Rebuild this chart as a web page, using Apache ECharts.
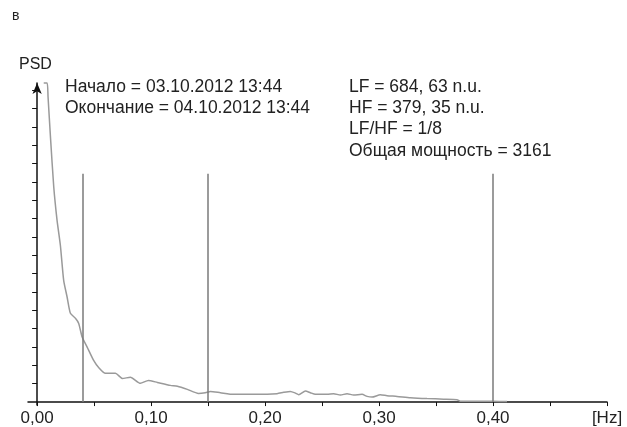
<!DOCTYPE html>
<html>
<head>
<meta charset="utf-8">
<script src="https://cdn.jsdelivr.net/npm/echarts@6/dist/echarts.min.js"></script>
<style>
  html, body { margin: 0; padding: 0; background: #fff; }
  #main { width: 627px; height: 427px; }
</style>
</head>
<body>
<div id="main"></div>
<script>
// частота, Hz
var freq = [0.0058, 0.0088, 0.0096, 0.0117, 0.0146, 0.0175, 0.0204, 0.0233, 0.0263, 0.0292,
  0.0336, 0.0365, 0.0395, 0.0439, 0.0496, 0.0538, 0.0599, 0.0687, 0.0748, 0.0818,
  0.0906, 0.0976, 0.1055, 0.1169, 0.1231, 0.1318, 0.1415, 0.1476, 0.1520, 0.1608,
  0.1725, 0.1930, 0.2105, 0.2163, 0.2222, 0.2266, 0.2295, 0.2354, 0.2397, 0.2441,
  0.2544, 0.2602, 0.2661, 0.2719, 0.2777, 0.2851, 0.2895, 0.2939, 0.3011, 0.3070,
  0.3158, 0.3275, 0.3421, 0.3567, 0.3684, 0.3713, 0.4000, 0.4123];
// PSD (в делениях оси)
var psd = [17.40, 17.40, 16.64, 14.46, 11.73, 9.91, 8.55, 6.64, 5.73, 4.84,
  4.57, 4.29, 3.55, 3.00, 2.27, 1.90, 1.57, 1.57, 1.29, 1.35,
  1.02, 1.18, 1.07, 0.91, 0.86, 0.69, 0.47, 0.51, 0.58, 0.51,
  0.42, 0.42, 0.46, 0.53, 0.58, 0.49, 0.40, 0.60, 0.51, 0.42,
  0.42, 0.46, 0.38, 0.46, 0.38, 0.42, 0.31, 0.27, 0.40, 0.35,
  0.31, 0.24, 0.19, 0.16, 0.13, 0.05, 0.04, 0.03];
// границы диапазонов VLF/LF/HF
var bandLines = [0.04, 0.15, 0.40];
var bandTop = 12.45;
var xTicks = [0, 0.05, 0.10, 0.15, 0.20, 0.25, 0.30, 0.35, 0.40, 0.45, 0.50];
var xLabels = [0, 0.10, 0.20, 0.30, 0.40, 0.50];
var yTicks = [1, 2, 3, 4, 5, 6, 7, 8, 9, 10, 11, 12, 13, 14, 15, 16, 17];
var infoLeft = ['Начало = 03.10.2012 13:44', 'Окончание = 04.10.2012 13:44'];
var infoRight = ['LF = 684, 63 n.u.', 'HF = 379, 35 n.u.', 'LF/HF = 1/8', 'Общая мощность = 3161'];

var font = '"Liberation Sans", Arial, sans-serif';
var myChart = echarts.init(document.getElementById('main'));

var points = [];
for (var i = 0; i < freq.length; i++) {
  points.push([freq[i], psd[i]]);
}

var marks = [];
for (var j = 0; j < bandLines.length; j++) {
  marks.push([{ coord: [bandLines[j], 0] }, { coord: [bandLines[j], bandTop] }]);
}

var texts = [
  { type: 'text', left: 12, top: 9, style: { text: 'в', font: '14px ' + font, fill: '#222' } },
  { type: 'text', left: 19, top: 57, style: { text: 'PSD', font: '16px ' + font, fill: '#222' } }
];
for (var k = 0; k < infoLeft.length; k++) {
  texts.push({ type: 'text', left: 65, top: 78 + k * 21,
    style: { text: infoLeft[k], font: '17.5px ' + font, fill: '#222' } });
}
for (var m = 0; m < infoRight.length; m++) {
  texts.push({ type: 'text', left: 349, top: 78 + m * 21.3,
    style: { text: infoRight[m], font: '17.5px ' + font, fill: '#222' } });
}

myChart.setOption({
  animation: false,
  backgroundColor: '#fff',
  grid: {
    left: 28,
    right: 20,
    top: 83,
    bottom: 22,
    containLabel: false,
    outerBoundsMode: 'none'
  },
  xAxis: {
    type: 'value',
    min: -0.008,
    max: 0.5,
    splitLine: { show: false },
    axisLine: { onZero: true, lineStyle: { color: '#111', width: 1.5 } },
    axisTick: { show: true, length: 4, customValues: xTicks, lineStyle: { color: '#111', width: 1 } },
    axisLabel: {
      customValues: xLabels,
      margin: 5,
      color: '#222',
      fontSize: 17,
      fontFamily: font,
      formatter: function (v) {
        if (v >= 0.5) return '[Hz]';
        return v.toFixed(2).replace('.', ',');
      }
    }
  },
  yAxis: {
    type: 'value',
    min: -0.16,
    max: 17.4,
    splitLine: { show: false },
    axisLine: {
      onZero: true,
      symbol: ['none', 'arrow'],
      symbolSize: [7, 11],
      lineStyle: { color: '#111', width: 1.5 }
    },
    axisTick: { show: true, length: 5, customValues: yTicks, lineStyle: { color: '#111', width: 1 } },
    axisLabel: { show: false }
  },
  series: [{
    type: 'line',
    data: points,
    showSymbol: false,
    smooth: 0.2,
    clip: false,
    lineStyle: { color: '#9a9a9a', width: 1.5 },
    markLine: {
      silent: true,
      symbol: 'none',
      label: { show: false },
      lineStyle: { color: '#7a7a7a', width: 1.5, type: 'solid' },
      data: marks
    }
  }],
  graphic: texts
});
</script>
</body>
</html>
